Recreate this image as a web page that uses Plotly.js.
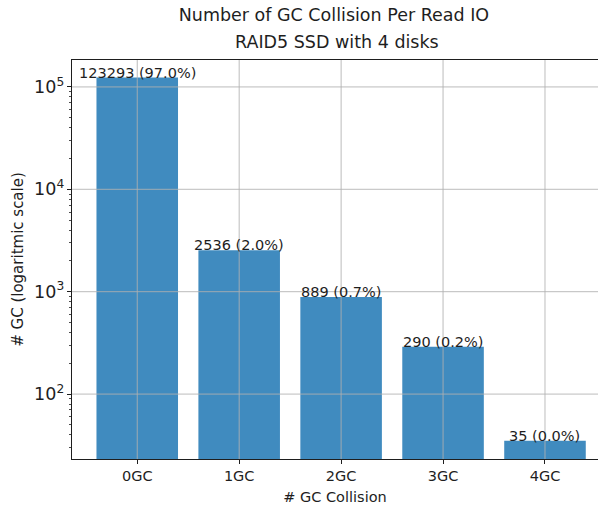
<!DOCTYPE html>
<html>
<head>
<meta charset="utf-8">
<script src="https://cdn.plot.ly/plotly-3.0.1.min.js"></script>
<style>html,body{margin:0;padding:0;overflow:hidden;background:#fff}</style>
</head>
<body>
<div id="chart" style="width:598px;height:508px"></div>
<script>
const categories = ['0GC', '1GC', '2GC', '3GC', '4GC'];
const counts = [123293, 2536, 889, 290, 35];
const labels = ['123293 (97.0%)', '2536 (2.0%)', '889 (0.7%)', '290 (0.2%)', '35 (0.0%)'];
const decadeTicks = [100, 1000, 10000, 100000];
const titleLine1 = 'Number of GC Collision Per Read IO';
const titleLine2 = 'RAID5 SSD with 4 disks';

const font = "DejaVu Sans, sans-serif";
const ink = '#1e1e1e';
const gridColor = 'rgba(176,176,176,0.85)';

const shapes = [];
categories.forEach(c => shapes.push({type:'line', xref:'x', yref:'paper', x0:c, x1:c, y0:0, y1:1,
  line:{color:gridColor, width:1}, layer:'above'}));
decadeTicks.forEach(v => shapes.push({type:'line', xref:'paper', yref:'y', x0:0, x1:1, y0:v, y1:v,
  line:{color:gridColor, width:1}, layer:'above'}));

const annotations = categories.map((c, i) => ({
  x:c, y:Math.log10(counts[i]), xref:'x', yref:'y', text:labels[i],
  showarrow:false, xanchor:'center', yanchor:'bottom', yshift:-5,
  font:{family:font, size:14.5, color:ink}
}));
annotations.push({text:titleLine2, xref:'paper', yref:'paper', x:0.504, y:1, yshift:18,
  xanchor:'center', yanchor:'middle', showarrow:false, font:{family:font, size:17.5, color:ink}});

const trace = {
  type:'bar', x:categories, y:counts, width:0.8,
  marker:{color:'#408bbf', line:{width:0}},
  hoverinfo:'none'
};

const layout = {
  width:598, height:508,
  margin:{l:72, r:0, t:60, b:49},
  paper_bgcolor:'#fff', plot_bgcolor:'#fff',
  font:{family:font, size:14, color:ink},
  showlegend:false,
  title:{text:titleLine1, x:0.498, xref:'paper', xanchor:'center',
    y:1 - 15/508, yref:'container', yanchor:'middle', font:{family:font, size:17.5, color:ink}},
  annotations:annotations,
  xaxis:{type:'category', range:[-0.64, 4.52], showgrid:false, zeroline:false,
    showline:true, linecolor:ink, linewidth:1, mirror:true,
    ticks:'outside', ticklen:4, tickwidth:1, tickcolor:ink,
    tickfont:{family:font, size:14.5, color:ink},
    title:{text:'# GC Collision', standoff:8, font:{family:font, size:14.5, color:ink}}},
  yaxis:{type:'log', range:[1.366, 5.263], showgrid:false, zeroline:false,
    showline:true, linecolor:ink, linewidth:1,
    tickmode:'linear', tick0:0, dtick:1, exponentformat:'power',
    ticks:'outside', ticklen:4, tickwidth:1, tickcolor:ink,
    tickfont:{family:font, size:14, color:ink},
    minor:{ticks:'outside', ticklen:2, tickwidth:0.8, tickcolor:ink, dtick:'D1', showgrid:false},
    title:{text:'# GC (logaritmic scale)', standoff:6, font:{family:font, size:15, color:ink}}},
  shapes:shapes
};

Plotly.newPlot('chart', [trace], layout, {displayModeBar:false, staticPlot:true});
</script>
</body>
</html>
